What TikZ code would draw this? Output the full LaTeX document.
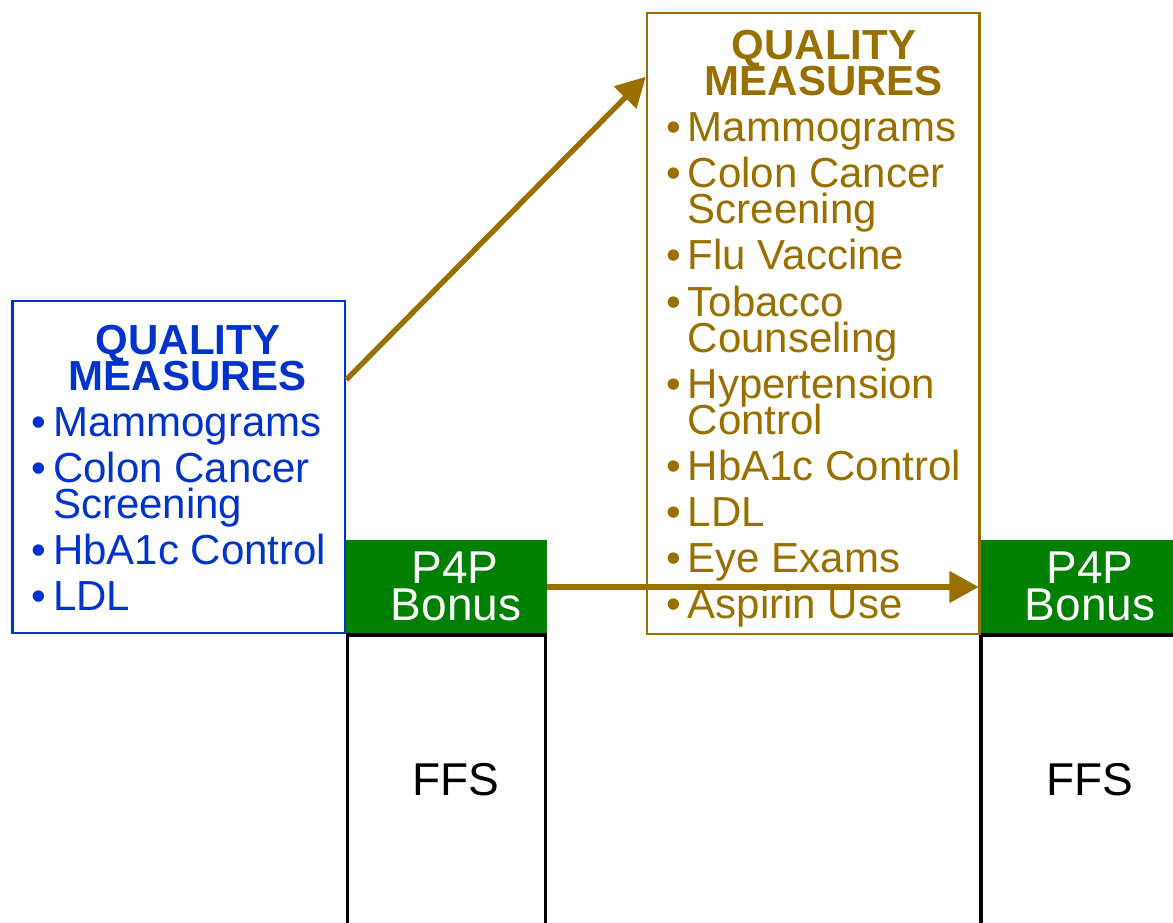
\documentclass[tikz,border=0pt]{standalone}
\usepackage{fontspec}
\setmainfont{Liberation Sans}
\usetikzlibrary{arrows.meta,calc}
\definecolor{qblue}{RGB}{0,51,204}
\definecolor{qgold}{RGB}{153,111,0}
\definecolor{pgreen}{RGB}{0,128,0}
\begin{document}
\begin{tikzpicture}[x=0.75pt,y=-0.75pt,
  framebox/.style={draw, line width=1.875pt, inner sep=0pt, minimum width=249.4pt},
  greenbox/.style={fill=pgreen, draw=none, inner sep=0pt, minimum width=150.75pt, minimum height=70.5pt},
  ffsbox/.style={draw=black, line width=2.4pt, inner sep=0pt, minimum width=148.5pt, minimum height=243.75pt},
  ttl/.style={font=\fontsize{31.5}{31.5}\selectfont\bfseries, anchor=base, inner sep=0pt},
  itm/.style={font=\fontsize{31.5}{31.5}\selectfont, anchor=base west, inner sep=0pt},
  bul/.style={font=\fontsize{31.5}{31.5}\selectfont, anchor=base, inner sep=0pt},
  big/.style={font=\fontsize{34.5}{34.5}\selectfont, anchor=base, inner sep=0pt},
  arr/.style={draw=qgold, line width=4pt, -{Triangle[length=22pt,width=23pt]}}]
\useasboundingbox (0,0) rectangle (1173,923);
\clip (0,0) rectangle (1173,923);
% green P4P boxes
\node[greenbox] (p1) at (446.5,587) {};
\node[greenbox] (p2) at (1079.5,587) {};
% FFS columns
\node[ffsbox] (f1) at (446.5,797.5) {};
\node[ffsbox] (f2) at (1080,797.5) {};
% quality measure boxes
\node[framebox, draw=qblue, minimum height=249pt] (qb) at (178.75,467) {};
\node[framebox, draw=qgold, minimum height=465.75pt] (qg) at (813.25,323.5) {};
% titles
\node[ttl, text=qblue] (tb1) at (188,354) {QUALITY};
\node[ttl, text=qblue] (tb2) at (188,390) {MEASURES};
\node[ttl, text=qgold] (tg1) at (824,60) {QUALITY};
\node[ttl, text=qgold] (tg2) at (824,96) {MEASURES};
% blue list
\foreach \y/\b/\t [count=\i] in {436/1/Mammograms, 482/1/Colon Cancer, 518/0/Screening, 564/1/HbA1c Control, 610/1/LDL}{
  \node[itm, text=qblue] (lb\i) at (53,\y) {\t};
  \ifnum\b=1 \node[bul, text=qblue] (bb\i) at (38.5,\y) {•};\fi
}
% gold list
\foreach \y/\b/\t [count=\i] in {142/1/Mammograms, 188/1/Colon Cancer, 224/0/Screening, 270/1/Flu Vaccine, 316/1/Tobacco, 352/0/Counseling, 398/1/Hypertension, 434/0/Control, 480/1/HbA1c Control, 526/1/LDL, 572/1/Eye Exams, 618/1/Aspirin Use}{
  \node[itm, text=qgold] (lg\i) at (687.5,\y) {\t};
  \ifnum\b=1 \node[bul, text=qgold] (bg\i) at (673.5,\y) {•};\fi
}
% P4P labels
\node[big, text=white] (t1a) at (455,583) {P4P};
\node[big, text=white] (t1b) at (456,620) {Bonus};
\node[big, text=white] (t2a) at (1090,583) {P4P};
\node[big, text=white] (t2b) at (1090,620) {Bonus};
% FFS labels
\node[big, text=black] (ffs1) at (456,795) {FFS};
\node[big, text=black] (ffs2) at (1090,795) {FFS};
% arrows
\coordinate (a1s) at ($(qb.north east)+(0,80)$);
\coordinate (a1e) at ($(qg.north west)+(0,65)$);
\draw[arr] (a1s) -- (a1e);
\draw[arr] (p1.east) -- (p2.west);
\end{tikzpicture}
\end{document}
